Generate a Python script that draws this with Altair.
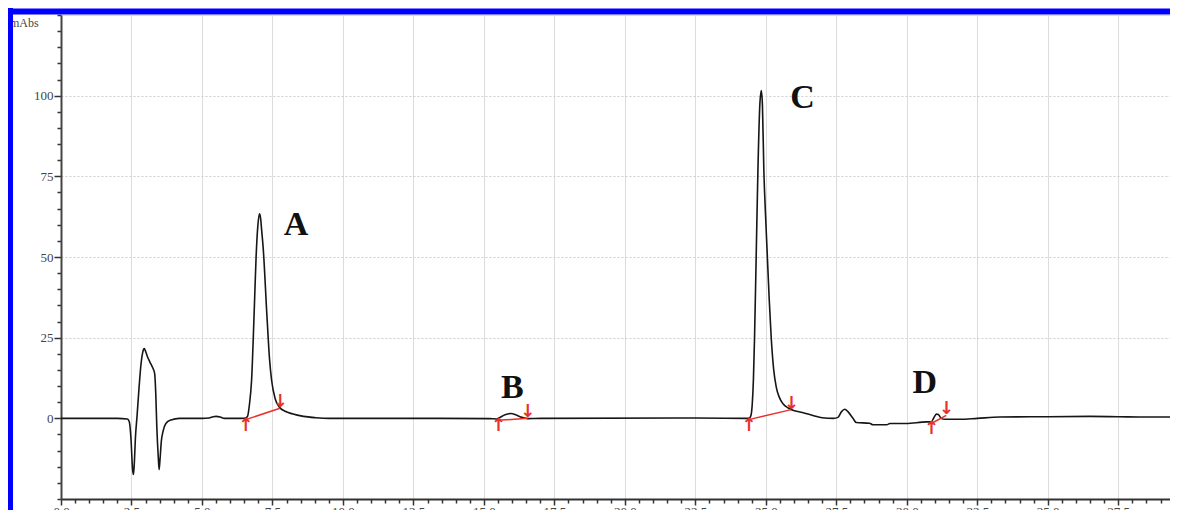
import altair as alt
import pandas as pd

# ---- chromatogram trace (retention time in min, absorbance in mAbs) ----
time_min = [0.0, 1.0, 2.0, 2.35, 2.42, 2.48, 2.54, 2.57, 2.60, 2.64, 2.70, 2.77, 2.84, 2.90,
            2.95, 3.00, 3.05, 3.15, 3.24, 3.32, 3.36, 3.40, 3.45, 3.48, 3.51, 3.56, 3.62,
            3.72, 3.90, 4.20, 5.00, 5.25, 5.40, 5.50, 5.65, 5.80, 6.40, 6.55, 6.62, 6.68,
            6.76, 6.85, 6.92, 6.98, 7.04, 7.08, 7.12, 7.17, 7.30, 7.40, 7.47, 7.60, 7.74,
            7.95, 8.20, 8.60, 9.04, 9.50, 12.5, 15.20, 15.45, 15.55, 15.75, 15.96, 16.15,
            16.35, 16.55, 17.0, 22.5, 24.30, 24.42, 24.48, 24.52, 24.56, 24.60, 24.66,
            24.72, 24.79, 24.84, 24.88, 24.93, 24.99, 25.05, 25.12, 25.19, 25.28, 25.37,
            25.48, 25.61, 25.80, 25.96, 26.30, 26.70, 27.00, 27.40, 27.56, 27.68, 27.80,
            27.92, 28.09, 28.21, 28.68, 28.80, 29.29, 29.40, 29.98, 30.70, 30.87, 30.96,
            31.05, 31.12, 31.22, 31.35, 31.90, 32.50, 33.30, 35.0, 36.5, 37.5, 38.5, 39.62]
absorbance = [0.0, 0.0, 0.0, -0.2, -1.0, -6, -16, -17.4, -14, -6, 1, 9.7, 17, 20.5,
              21.6, 20.8, 19.5, 17.5, 15.9, 14, 8, -3, -12, -15.9, -13, -7, -4,
              -1.6, -0.5, 0.0, 0.0, 0.1, 0.5, 0.6, 0.4, 0.0, 0.0, 0.1, 0.7, 4,
              11.8, 32.4, 50, 59.5, 63.4, 62, 58, 53, 32.5, 18, 11.8, 6.0, 3.5,
              2.2, 1.4, 0.6, 0.2, 0.0, 0.0, -0.1, -0.2, 0.2, 1.1, 1.5, 1.0,
              0.3, -0.1, 0.0, 0.1, 0.0, 0.1, 1.2, 4.6, 12, 25, 51,
              77, 97.6, 101.6, 97, 76.9, 63, 51, 37, 25.2, 15, 9.7,
              6.5, 4.5, 3.2, 2.5, 1.8, 0.8, 0.2, 0.0, 0.3, 2.0, 2.8,
              2.0, 0.0, -1.3, -1.5, -2.0, -2.0, -1.6, -1.6, -1.1, -1.1, 0.2,
              1.3, 1.2, 0.0, -0.3, -0.3, 0.0, 0.4, 0.5, 0.6, 0.5, 0.4, 0.4]

# ---- integrated peaks ----
peak_names = ["A", "B", "C", "D"]
label_x = [8.34, 16.01, 26.30, 30.64]
label_y = [59.8, 9.3, 99.2, 10.8]
base_start_x = [6.55, 15.51, 24.40, 30.87]
base_start_y = [-0.4, -0.6, -0.4, -1.6]
base_end_x = [7.77, 16.55, 25.90, 31.40]
base_end_y = [3.1, 0.0, 2.7, 0.9]

# ---- axis ticks ----
x_ticks = [i * 0.5 for i in range(0, 80)]
y_ticks = [-25 + 5 * i for i in range(0, 31)]

X_MAX = 39.62
W, H = 1117, 484

trace = pd.DataFrame({"t": time_min, "a": absorbance})
peaks = pd.DataFrame({
    "name": peak_names, "lx": label_x, "ly": label_y,
    "sx": base_start_x, "sy": base_start_y, "ex": base_end_x, "ey": base_end_y,
})
one = pd.DataFrame({"k": [0]})

xscale = alt.Scale(domain=[0, X_MAX], nice=False, zero=False)
yscale = alt.Scale(domain=[-25, 125], nice=False, zero=False)

major_x = "datum.value % 2.5 === 0"
major_y = "datum.value % 25 === 0 && datum.value >= 0 && datum.value <= 100"

x_axis = alt.Axis(
    values=x_ticks, tickCount=500, title=None,
    labelExpr="datum.value % 2.5 === 0 ? format(datum.value, '.1f') : ''",
    labelOverlap=False, labelFlush=False, labelFont="Liberation Serif",
    labelFontSize=13, labelColor="#444", labelPadding=0,
    tickSize={"condition": {"test": major_x, "value": 6}, "value": 4},
    tickColor="#333", tickWidth=1.5, domainColor="#333", domainWidth=2,
    grid=True, gridColor="#dcdcdc", gridWidth=1,
    gridOpacity={"condition": {"test": major_x + " && datum.value > 0", "value": 1}, "value": 0},
)
y_axis = alt.Axis(
    values=y_ticks, tickCount=500, title=None,
    labelExpr="(" + major_y + ") ? format(datum.value, 'd') : ''",
    labelOverlap=False, labelFlush=False, labelFont="Liberation Serif",
    labelFontSize=13, labelColor="#444", labelPadding=1,
    tickSize={"condition": {"test": major_y, "value": 7}, "value": 4},
    tickColor="#333", tickWidth=1.5, domainColor="#444", domainWidth=2,
    grid=True, gridColor="#cfcfcf", gridWidth=1, gridDash=[2, 2],
    gridOpacity={"condition": {"test": major_y + " && datum.value !== 0", "value": 1}, "value": 0},
)

line = alt.Chart(trace).mark_line(color="#161616", strokeWidth=1.6, interpolate="monotone").encode(
    x=alt.X("t:Q", scale=xscale, axis=x_axis),
    y=alt.Y("a:Q", scale=yscale, axis=y_axis),
)

base = alt.Chart(peaks)
baselines = base.mark_rule(color="#e8302a", strokeWidth=1.5).encode(
    x="sx:Q", y="sy:Q", x2="ex:Q", y2="ey:Q")
up_arrows = base.mark_text(text="↑", color="#e8302a", fontSize=18, fontWeight="bold",
                           baseline="top", dy=-3, font="DejaVu Sans").encode(x="sx:Q", y="sy:Q")
down_arrows = base.mark_text(text="↓", color="#e8302a", fontSize=18, fontWeight="bold",
                             baseline="bottom", dy=3, font="DejaVu Sans").encode(x="ex:Q", y="ey:Q")
labels = base.mark_text(font="Liberation Serif", fontWeight="bold", fontSize=34,
                        color="#111", align="center", baseline="middle").encode(
    x="lx:Q", y="ly:Q", text="name:N")

units = alt.Chart(one).mark_text(text="mAbs", font="Liberation Serif", fontSize=12,
                                 color="#444", align="left", baseline="middle").encode(
    x=alt.value(-51), y=alt.value(8))
frame_top = alt.Chart(one).mark_rule(color="#0000ff", strokeWidth=6).encode(
    x=alt.value(-53), x2=alt.value(W), y=alt.value(-3.5))
frame_left = alt.Chart(one).mark_rule(color="#0000ff", strokeWidth=5).encode(
    x=alt.value(-50.5), y=alt.value(-7), y2=alt.value(H + 40))

chart = alt.layer(line, baselines, up_arrows, down_arrows, labels, units, frame_top, frame_left).properties(
    width=W, height=H,
    autosize=alt.AutoSizeParams(type="none"),
    padding={"left": 53, "top": 7, "right": -8, "bottom": 14},
).configure_view(stroke=None).configure(background="white")

chart.save("out.html", embed_options={"renderer": "svg", "actions": False})
